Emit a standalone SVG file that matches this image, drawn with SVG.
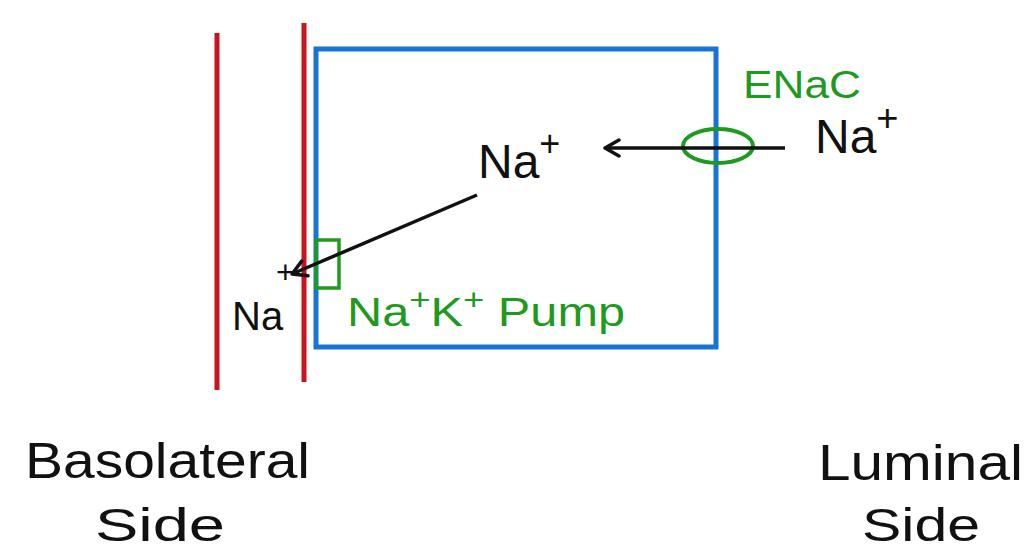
<svg xmlns="http://www.w3.org/2000/svg" width="1035" height="552" viewBox="0 0 1035 552">
<style>
.t{font-family:"Liberation Sans",Arial,sans-serif;fill:#111}
.g{font-family:"Liberation Sans",Arial,sans-serif;fill:#1e9a1e}
.red{stroke:#c8141e;stroke-width:5;fill:none}
.con{stroke:#111;stroke-width:3.5;fill:none}
</style>
<defs>
<marker id="arr" viewBox="0 0 20 20" refX="18" refY="10" markerWidth="20" markerHeight="20" markerUnits="userSpaceOnUse" orient="auto">
<path d="M4,2 L18,10 L4,18" fill="none" stroke="#111" stroke-width="3.5" stroke-linecap="round" stroke-linejoin="round"/>
</marker>
</defs>
<rect width="1035" height="552" fill="#fff"/>
<g id="membranes">
<line class="red" x1="217" y1="33" x2="217" y2="390"/>
<line class="red" x1="304" y1="23" x2="304" y2="382"/>
</g>
<g id="cell">
<rect x="316" y="49" width="400" height="298" fill="none" stroke="#1874d2" stroke-width="5"/>
</g>
<g id="enac">
<ellipse cx="718" cy="146" rx="35" ry="17" fill="none" stroke="#1e9a1e" stroke-width="4"/>
<text class="g" x="743" y="98" font-size="38" textLength="118" lengthAdjust="spacingAndGlyphs">ENaC</text>
</g>
<g id="pump">
<rect x="316" y="240" width="23" height="48" fill="none" stroke="#1e9a1e" stroke-width="3.5"/>
<text class="g" x="347" y="326" font-size="40" textLength="278" lengthAdjust="spacingAndGlyphs">Na<tspan font-size="30" dy="-16">+</tspan><tspan dy="16">K</tspan><tspan font-size="30" dy="-16">+</tspan><tspan dy="16"> Pump</tspan></text>
</g>
<g id="na-lumen">
<text class="t" x="815" y="153" font-size="48">Na<tspan dy="-22" font-size="38">+</tspan></text>
</g>
<g id="na-cell">
<text class="t" x="478" y="178" font-size="48">Na<tspan dy="-22" font-size="36">+</tspan></text>
</g>
<g id="na-baso">
<text class="t" x="232" y="330" font-size="40">Na</text>
<text class="t" x="276" y="283" font-size="32">+</text>
</g>
<g id="labels">
<text class="t" x="25" y="478" font-size="50" textLength="285" lengthAdjust="spacingAndGlyphs">Basolateral</text>
<text class="t" x="95" y="541" font-size="46" textLength="130" lengthAdjust="spacingAndGlyphs">Side</text>
<text class="t" x="818" y="480" font-size="50" textLength="205" lengthAdjust="spacingAndGlyphs">Luminal</text>
<text class="t" x="862" y="541" font-size="46" textLength="118" lengthAdjust="spacingAndGlyphs">Side</text>
</g>
<g id="connectors">
<line class="con" x1="785" y1="148" x2="605" y2="148" marker-end="url(#arr)"/>
<line class="con" x1="477" y1="195" x2="292" y2="274" marker-end="url(#arr)"/>
</g>
</svg>
